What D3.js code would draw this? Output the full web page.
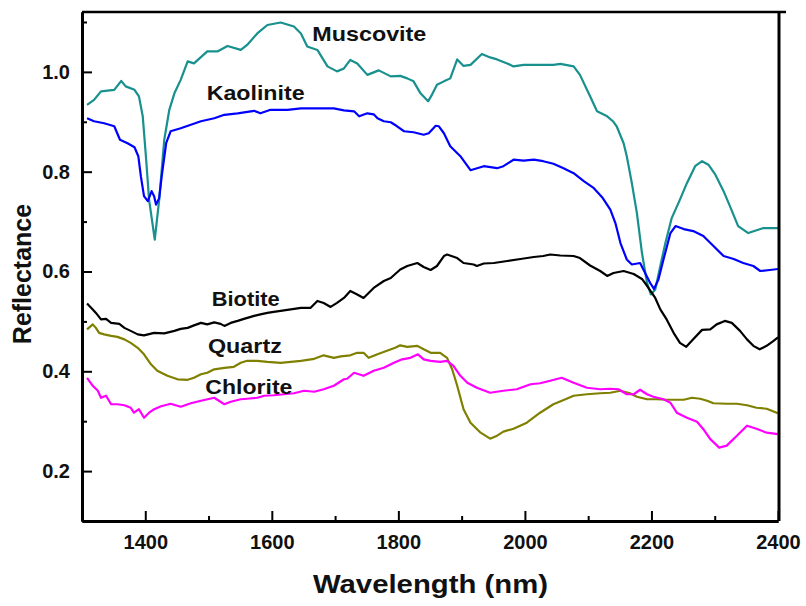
<!DOCTYPE html>
<html lang="en">
<head>
  <meta charset="UTF-8">
  <title>Reflectance spectra</title>
  <style>
    body { margin: 0; background: #fff; }
    svg text { font-family: "Liberation Sans", Arial, sans-serif; font-weight: bold; fill: #111; }
  </style>
  <script src="https://d3js.org/d3.v7.min.js"></script>
</head>
<body>
<script>
  // spectra: [wavelength nm, reflectance]
  var muscovite = [
    [1308,0.934],[1319,0.944],[1330,0.961],[1351,0.964],[1362,0.982],[1369,0.971],[1383,0.964],[1390,0.951],
    [1396,0.911],[1401,0.831],[1406,0.744],[1415,0.664],[1422,0.744],[1430,0.864],[1438,0.924],[1446,0.957],
    [1456,0.984],[1467,1.021],[1477,1.017],[1498,1.041],[1514,1.041],[1530,1.052],[1551,1.044],[1561,1.054],
    [1577,1.077],[1593,1.094],[1614,1.099],[1635,1.091],[1646,1.077],[1656,1.051],[1672,1.044],[1688,1.011],
    [1703,1.001],[1714,1.007],[1724,1.024],[1735,1.017],[1751,0.994],[1769,1.003],[1788,0.991],[1803,0.992],
    [1814,0.987],[1824,0.981],[1835,0.957],[1847,0.941],[1853,0.954],[1861,0.974],[1872,0.981],[1882,0.987],
    [1893,1.025],[1903,1.012],[1914,1.014],[1932,1.036],[1945,1.029],[1956,1.025],[1972,1.017],[1982,1.011],
    [1998,1.014],[2019,1.014],[2045,1.014],[2056,1.016],[2077,1.011],[2087,0.994],[2103,0.951],[2114,0.921],
    [2130,0.911],[2140,0.900],[2145,0.891],[2156,0.857],[2161,0.831],[2169,0.777],[2177,0.717],[2185,0.637],
    [2193,0.577],[2199,0.554],[2206,0.564],[2214,0.611],[2222,0.657],[2232,0.707],[2245,0.744],[2256,0.777],
    [2269,0.811],[2280,0.821],[2290,0.814],[2301,0.794],[2314,0.761],[2324,0.731],[2337,0.691],[2353,0.677],
    [2377,0.687],[2400,0.687]
  ];
  var kaolinite = [
    [1308,0.907],[1319,0.901],[1335,0.897],[1351,0.891],[1360,0.864],[1372,0.857],[1383,0.849],[1389,0.831],
    [1393,0.791],[1398,0.751],[1404,0.741],[1410,0.761],[1414,0.751],[1417,0.734],[1422,0.747],[1426,0.791],
    [1433,0.857],[1440,0.881],[1456,0.887],[1472,0.894],[1488,0.901],[1509,0.907],[1525,0.914],[1546,0.917],
    [1572,0.922],[1582,0.917],[1598,0.924],[1625,0.924],[1646,0.927],[1667,0.927],[1698,0.927],[1714,0.923],
    [1730,0.921],[1738,0.911],[1751,0.917],[1761,0.915],[1767,0.907],[1777,0.901],[1788,0.899],[1798,0.891],
    [1809,0.881],[1824,0.879],[1840,0.874],[1848,0.877],[1859,0.892],[1864,0.891],[1872,0.877],[1882,0.851],
    [1898,0.831],[1914,0.803],[1935,0.811],[1956,0.807],[1966,0.811],[1982,0.824],[1998,0.822],[2014,0.824],
    [2029,0.821],[2045,0.816],[2061,0.807],[2077,0.797],[2093,0.781],[2109,0.767],[2122,0.749],[2135,0.724],
    [2143,0.697],[2151,0.657],[2161,0.624],[2169,0.614],[2182,0.617],[2190,0.597],[2198,0.577],[2204,0.565],
    [2211,0.584],[2219,0.624],[2230,0.677],[2238,0.691],[2251,0.685],[2266,0.681],[2282,0.671],[2298,0.651],
    [2314,0.631],[2330,0.625],[2345,0.617],[2361,0.611],[2372,0.601],[2387,0.603],[2400,0.605]
  ];
  var biotite = [
    [1308,0.536],[1317,0.524],[1322,0.517],[1330,0.504],[1338,0.505],[1346,0.497],[1359,0.495],[1367,0.487],
    [1377,0.481],[1388,0.474],[1398,0.472],[1414,0.477],[1430,0.476],[1446,0.481],[1456,0.485],[1467,0.487],
    [1477,0.492],[1488,0.497],[1498,0.494],[1509,0.498],[1519,0.495],[1525,0.491],[1535,0.497],[1546,0.501],
    [1556,0.505],[1572,0.511],[1582,0.514],[1593,0.517],[1603,0.519],[1614,0.521],[1630,0.524],[1646,0.527],
    [1661,0.527],[1672,0.541],[1682,0.537],[1693,0.529],[1703,0.537],[1714,0.547],[1724,0.561],[1735,0.554],
    [1745,0.547],[1761,0.567],[1777,0.581],[1788,0.587],[1803,0.604],[1814,0.611],[1830,0.617],[1840,0.609],
    [1851,0.603],[1861,0.611],[1872,0.631],[1877,0.634],[1893,0.627],[1903,0.617],[1919,0.614],[1924,0.611],
    [1935,0.616],[1951,0.617],[1972,0.621],[1993,0.625],[2014,0.629],[2029,0.631],[2040,0.634],[2056,0.632],
    [2077,0.631],[2087,0.627],[2103,0.612],[2119,0.601],[2130,0.591],[2140,0.597],[2156,0.601],[2172,0.595],
    [2185,0.585],[2193,0.571],[2206,0.547],[2214,0.524],[2224,0.504],[2235,0.477],[2245,0.457],[2255,0.449],
    [2266,0.464],[2280,0.483],[2293,0.484],[2303,0.494],[2316,0.501],[2327,0.497],[2340,0.481],[2351,0.464],
    [2361,0.451],[2371,0.444],[2382,0.451],[2393,0.461],[2400,0.468]
  ];
  var quartz = [
    [1308,0.484],[1317,0.494],[1322,0.487],[1327,0.477],[1335,0.474],[1346,0.471],[1356,0.469],[1367,0.464],
    [1377,0.457],[1388,0.447],[1398,0.434],[1409,0.414],[1419,0.401],[1435,0.391],[1451,0.384],[1467,0.383],
    [1477,0.387],[1488,0.394],[1498,0.397],[1509,0.404],[1525,0.407],[1540,0.409],[1551,0.417],[1561,0.421],
    [1577,0.421],[1593,0.419],[1614,0.417],[1630,0.419],[1646,0.421],[1667,0.425],[1682,0.432],[1698,0.427],
    [1709,0.430],[1724,0.432],[1735,0.437],[1745,0.437],[1753,0.427],[1767,0.434],[1782,0.441],[1795,0.447],
    [1803,0.452],[1814,0.449],[1830,0.451],[1840,0.444],[1851,0.437],[1866,0.437],[1877,0.427],[1885,0.404],
    [1893,0.371],[1903,0.324],[1914,0.297],[1930,0.277],[1945,0.265],[1956,0.271],[1966,0.279],[1982,0.285],
    [2003,0.297],[2024,0.317],[2045,0.334],[2066,0.345],[2077,0.351],[2098,0.354],[2119,0.356],[2135,0.357],
    [2151,0.361],[2166,0.356],[2177,0.349],[2193,0.344],[2208,0.344],[2224,0.343],[2251,0.343],[2264,0.347],
    [2277,0.345],[2288,0.341],[2298,0.336],[2319,0.335],[2335,0.335],[2351,0.332],[2366,0.327],[2382,0.325],
    [2400,0.316]
  ];
  var chlorite = [
    [1308,0.387],[1317,0.371],[1325,0.361],[1330,0.347],[1338,0.351],[1346,0.334],[1356,0.334],[1367,0.332],
    [1377,0.327],[1382,0.317],[1390,0.324],[1398,0.307],[1406,0.317],[1414,0.324],[1425,0.330],[1440,0.335],
    [1456,0.329],[1472,0.336],[1488,0.341],[1509,0.347],[1525,0.334],[1535,0.339],[1551,0.344],[1561,0.345],
    [1577,0.347],[1588,0.351],[1603,0.352],[1619,0.354],[1635,0.356],[1651,0.361],[1667,0.359],[1682,0.364],
    [1698,0.371],[1714,0.384],[1719,0.385],[1730,0.397],[1745,0.391],[1761,0.401],[1777,0.407],[1793,0.417],
    [1806,0.424],[1819,0.427],[1831,0.434],[1840,0.424],[1851,0.421],[1866,0.419],[1877,0.421],[1887,0.411],
    [1898,0.391],[1909,0.377],[1924,0.367],[1945,0.357],[1966,0.361],[1987,0.364],[2009,0.374],[2024,0.376],
    [2040,0.381],[2058,0.387],[2077,0.377],[2098,0.367],[2119,0.364],[2135,0.365],[2148,0.364],[2161,0.354],
    [2172,0.354],[2182,0.363],[2193,0.354],[2203,0.349],[2219,0.344],[2230,0.337],[2240,0.317],[2256,0.307],
    [2272,0.299],[2282,0.284],[2293,0.264],[2307,0.247],[2319,0.251],[2335,0.271],[2351,0.291],[2366,0.285],
    [2382,0.277],[2400,0.274]
  ];

  var xMajor = [1400, 1600, 1800, 2000, 2200, 2400];
  var xMinor = [1300, 1500, 1700, 1900, 2100, 2300];
  var yMajor = [0.2, 0.4, 0.6, 0.8, 1.0];
  var yMinor = [0.3, 0.5, 0.7, 0.9, 1.1];

  var series = [
    { name: "Muscovite", values: muscovite, color: "#17908e", at: [1664, 1.062], len: 114 },
    { name: "Kaolinite", values: kaolinite, color: "#0000ff", at: [1497, 0.944], len: 98 },
    { name: "Biotite",   values: biotite,   color: "#000000", at: [1505, 0.531], len: 68 },
    { name: "Quartz",    values: quartz,    color: "#808000", at: [1499, 0.436], len: 74 },
    { name: "Chlorite",  values: chlorite,  color: "#ff00ff", at: [1495, 0.354], len: 87 }
  ];

  (function () {
    var width = 806, height = 606;
    var plotL = 82, plotR = 778, plotT = 12, plotB = 521;

    var x = d3.scaleLinear().domain([1300, 2400]).range([plotL, plotR]);
    var y = d3.scaleLinear().domain([0.1, 1.12]).range([plotB, plotT]);

    var svg = d3.select("body").append("svg")
        .attr("width", width)
        .attr("height", height);

    // lines first, frame drawn on top
    var line = d3.line()
        .x(function (d) { return x(d[0]); })
        .y(function (d) { return y(d[1]); });

    svg.append("g").selectAll("path")
      .data(series)
      .enter().append("path")
        .attr("d", function (d) { return line(d.values); })
        .attr("fill", "none")
        .attr("stroke", function (d) { return d.color; })
        .attr("stroke-width", 2.2)
        .attr("stroke-linejoin", "round");

    svg.append("g").selectAll("text")
      .data(series)
      .enter().append("text")
        .attr("x", function (d) { return x(d.at[0]); })
        .attr("y", function (d) { return y(d.at[1]); })
        .attr("font-size", 21)
        .attr("textLength", function (d) { return d.len; })
        .attr("lengthAdjust", "spacingAndGlyphs")
        .text(function (d) { return d.name; });

    // frame: top and right
    svg.append("line").attr("x1", plotL).attr("x2", plotR + 8).attr("y1", plotT).attr("y2", plotT)
        .attr("stroke", "#000").attr("stroke-width", 2.5);
    svg.append("line").attr("x1", plotR + 1).attr("x2", plotR + 1).attr("y1", plotT).attr("y2", plotB)
        .attr("stroke", "#000").attr("stroke-width", 3);

    // axes, ticks pointing inward
    var xAxis = d3.axisBottom(x).tickValues(xMajor).tickSizeInner(-10).tickSizeOuter(0).tickPadding(14)
        .tickFormat(d3.format("d"));
    var xAxisMinor = d3.axisBottom(x).tickValues(xMinor).tickSizeInner(-5).tickSizeOuter(0).tickFormat("");
    var yAxis = d3.axisLeft(y).tickValues(yMajor).tickSizeInner(-10).tickSizeOuter(0).tickPadding(12)
        .tickFormat(d3.format(".1f"));
    var yAxisMinor = d3.axisLeft(y).tickValues(yMinor).tickSizeInner(-5).tickSizeOuter(0).tickFormat("");

    var gx = svg.append("g").attr("transform", "translate(0," + plotB + ")");
    gx.append("g").call(xAxisMinor);
    gx.append("g").call(xAxis);
    var gy = svg.append("g").attr("transform", "translate(" + plotL + ",0)");
    gy.append("g").call(yAxisMinor);
    gy.append("g").call(yAxis);

    svg.selectAll(".domain").attr("stroke", "#000").attr("stroke-width", 3);
    svg.selectAll(".tick line").attr("stroke", "#000").attr("stroke-width", 2);
    svg.selectAll(".tick text")
        .attr("font-family", "Liberation Sans, Arial, sans-serif")
        .attr("font-weight", "bold")
        .attr("font-size", 20)
        .attr("fill", "#111");
    gx.selectAll(".tick text").attr("dy", "0.71em");

    svg.append("text")
        .attr("x", (plotL + plotR) / 2 + 0.5)
        .attr("y", 593)
        .attr("text-anchor", "middle")
        .attr("font-size", 25)
        .attr("textLength", 235)
        .attr("lengthAdjust", "spacingAndGlyphs")
        .text("Wavelength (nm)");

    svg.append("text")
        .attr("transform", "translate(31,274) rotate(-90)")
        .attr("text-anchor", "middle")
        .attr("font-size", 25)
        .text("Reflectance");
  })();
</script>
</body>
</html>
